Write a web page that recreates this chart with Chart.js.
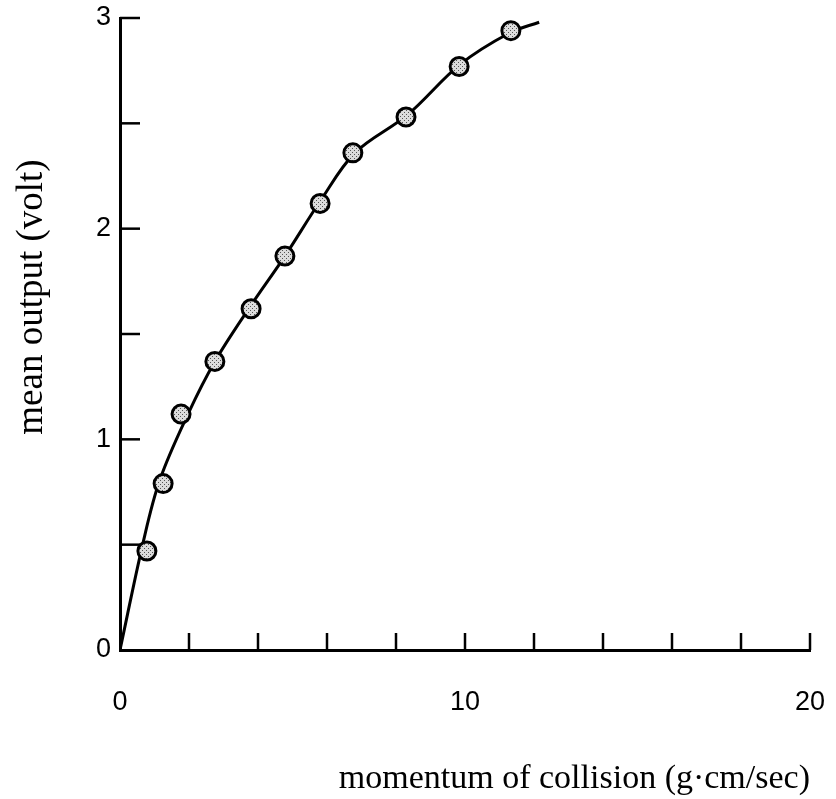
<!DOCTYPE html>
<html lang="en">
<head>
  <meta charset="UTF-8" />
  <title>Mean output vs momentum of collision</title>
  <script src="https://cdn.jsdelivr.net/npm/chart.js@4.4.0/dist/chart.umd.min.js"></script>
  <style>
    html, body { margin: 0; padding: 0; background: #fff; }
    #wrap { width: 836px; height: 799px; }
  </style>
</head>
<body>
  <div id="wrap"><canvas id="chart" width="836" height="799"></canvas></div>
  <script>
    // measured points (momentum g·cm/sec, mean output volt)
    var pointX = [0.78, 1.25, 1.77, 2.75, 3.80, 4.78, 5.80, 6.75, 8.29, 9.83, 11.33];
    var pointY = [0.47, 0.79, 1.12, 1.37, 1.62, 1.87, 2.12, 2.36, 2.53, 2.77, 2.94];

    // fitted curve
    var curveX = [0, 0.67, 1.16, 1.97, 2.75, 3.77, 4.78, 5.80, 6.81, 8.33, 9.86, 11.30, 12.15];
    var curveY = [0, 0.51, 0.81, 1.12, 1.37, 1.63, 1.87, 2.13, 2.36, 2.54, 2.78, 2.93, 2.98];

    var xLabels = [0, 10, 20];
    var yLabels = [0, 1, 2, 3];

    function toXY(xs, ys) {
      return xs.map(function (x, i) { return { x: x, y: ys[i] }; });
    }

    // dotted grey fill for the markers
    function dotPattern() {
      var c = document.createElement('canvas');
      c.width = 4; c.height = 4;
      var g = c.getContext('2d');
      g.fillStyle = '#dcdcdc';
      g.fillRect(0, 0, 4, 4);
      g.fillStyle = '#555';
      g.fillRect(0, 0, 1, 1);
      g.fillRect(2, 2, 1, 1);
      return g.createPattern(c, 'repeat');
    }

    // tick marks pointing into the plot
    var innerTicks = {
      id: 'innerTicks',
      afterDatasetsDraw: function (chart) {
        var ctx = chart.ctx;
        var xs = chart.scales.x, ys = chart.scales.y;
        var area = chart.chartArea;
        ctx.save();
        ctx.strokeStyle = '#000';
        ctx.lineWidth = 2.5;
        xs.ticks.forEach(function (t) {
          if (t.value === 0) return;
          var px = xs.getPixelForValue(t.value);
          ctx.beginPath();
          ctx.moveTo(px, area.bottom);
          ctx.lineTo(px, area.bottom - 17);
          ctx.stroke();
        });
        ys.ticks.forEach(function (t) {
          if (t.value === 0) return;
          var py = ys.getPixelForValue(t.value);
          ctx.beginPath();
          ctx.moveTo(area.left, py);
          ctx.lineTo(area.left + 20, py);
          ctx.stroke();
        });
        ctx.restore();
      }
    };

    var ctx = document.getElementById('chart').getContext('2d');
    new Chart(ctx, {
      type: 'scatter',
      data: {
        datasets: [
          {
            label: 'measured',
            data: toXY(pointX, pointY),
            pointRadius: 9,
            pointHoverRadius: 9,
            pointBorderWidth: 3,
            pointBorderColor: '#000',
            pointBackgroundColor: dotPattern(),
            showLine: false
          },
          {
            label: 'fit',
            data: toXY(curveX, curveY),
            showLine: true,
            pointRadius: 0,
            borderColor: '#000',
            borderWidth: 3,
            tension: 0.35,
            fill: false
          }
        ]
      },
      options: {
        responsive: false,
        animation: false,
        layout: { padding: { top: 18, right: 26, left: 0, bottom: 0 } },
        plugins: {
          legend: { display: false },
          tooltip: { enabled: false }
        },
        scales: {
          x: {
            type: 'linear',
            min: 0,
            max: 20,
            afterFit: function (s) { s.height = 149; s.paddingLeft = 0; s.paddingRight = 0; },
            grid: { display: false, drawTicks: false },
            border: { display: true, color: '#000', width: 3 },
            ticks: {
              stepSize: 2,
              padding: 36,
              color: '#000',
              maxRotation: 0,
              autoSkip: false,
              font: { family: 'Liberation Sans, Arial, sans-serif', size: 27 },
              callback: function (v) { return xLabels.indexOf(v) >= 0 ? String(v) : ''; }
            },
            title: {
              display: true,
              text: 'momentum of collision (g·cm/sec)',
              align: 'end',
              color: '#000',
              font: { family: 'Liberation Serif, Times New Roman, serif', size: 34 },
              padding: { top: 26, bottom: 0 }
            }
          },
          y: {
            type: 'linear',
            min: 0,
            max: 3,
            afterFit: function (s) { s.width = 120; s.paddingTop = 0; s.paddingBottom = 0; },
            grid: { display: false, drawTicks: false },
            border: { display: true, color: '#000', width: 3 },
            ticks: {
              stepSize: 0.5,
              padding: 9,
              color: '#000',
              autoSkip: false,
              font: { family: 'Liberation Sans, Arial, sans-serif', size: 27 },
              callback: function (v) { return yLabels.indexOf(v) >= 0 ? String(v) : ''; }
            },
            title: {
              display: true,
              // leading spaces nudge the centred title upward as in the original
              text: '        mean output (volt)',
              color: '#000',
              font: { family: 'Liberation Serif, Times New Roman, serif', size: 37 },
              padding: { top: 10, bottom: 0 }
            }
          }
        }
      },
      plugins: [innerTicks]
    });
  </script>
</body>
</html>
